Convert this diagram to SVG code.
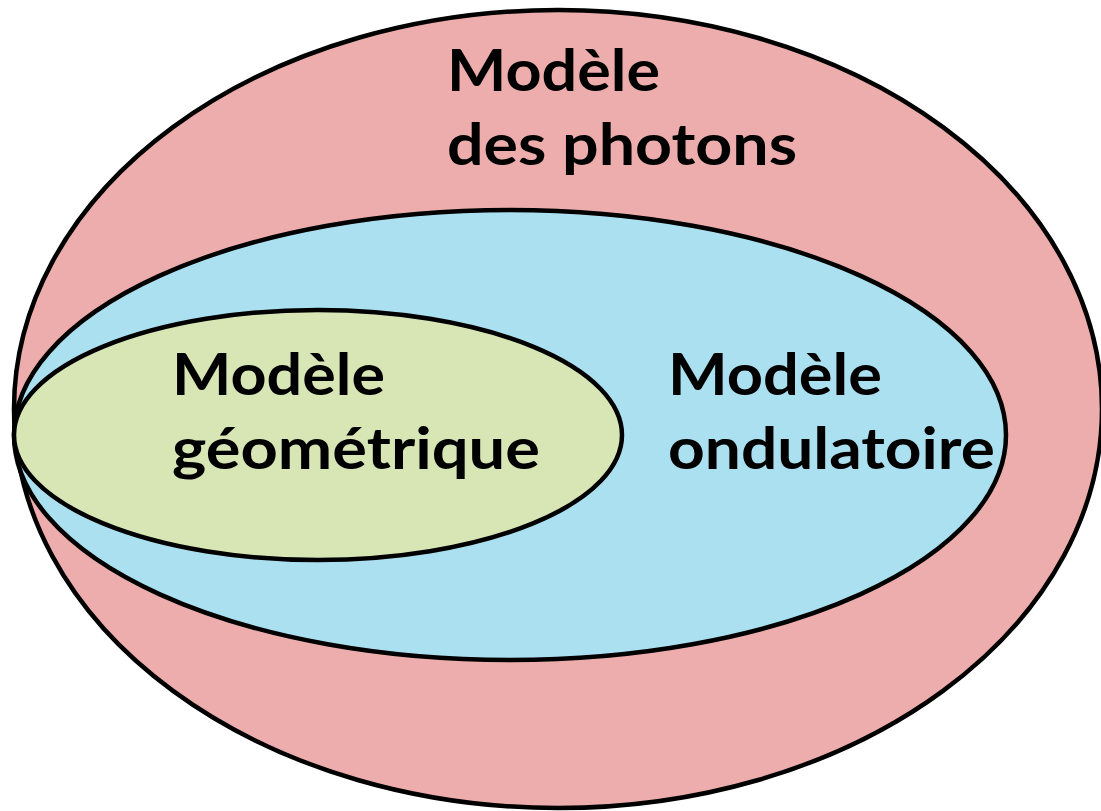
<svg xmlns="http://www.w3.org/2000/svg" width="1101" height="811" viewBox="0 0 1101 811">
<style>
.sh{stroke:#000;stroke-width:4.5}
.t{font-family:Lato,"Liberation Sans",sans-serif;font-weight:bold;font-size:57px;fill:#000}
</style>
<rect width="1101" height="811" fill="#fff"/>
<g id="photons">
<ellipse class="sh" cx="558" cy="409" rx="544" ry="399" fill="#EEADAD"/>
<text class="t" x="447" y="91" textLength="213" lengthAdjust="spacingAndGlyphs">Modèle</text>
<text class="t" x="447" y="165" textLength="350" lengthAdjust="spacingAndGlyphs">des photons</text>
</g>
<g id="ondulatoire">
<ellipse class="sh" cx="510" cy="435" rx="496" ry="225" fill="#AAE0F0"/>
<text class="t" x="668" y="395" textLength="214" lengthAdjust="spacingAndGlyphs">Modèle</text>
<text class="t" x="668" y="469" textLength="327" lengthAdjust="spacingAndGlyphs">ondulatoire</text>
</g>
<g id="geometrique">
<ellipse class="sh" cx="318" cy="435" rx="304" ry="125" fill="#D8E5B5"/>
<text class="t" x="172" y="395" textLength="213" lengthAdjust="spacingAndGlyphs">Modèle</text>
<text class="t" x="172" y="469" textLength="368" lengthAdjust="spacingAndGlyphs">géométrique</text>
</g>
<g id="connectors"/>
</svg>
